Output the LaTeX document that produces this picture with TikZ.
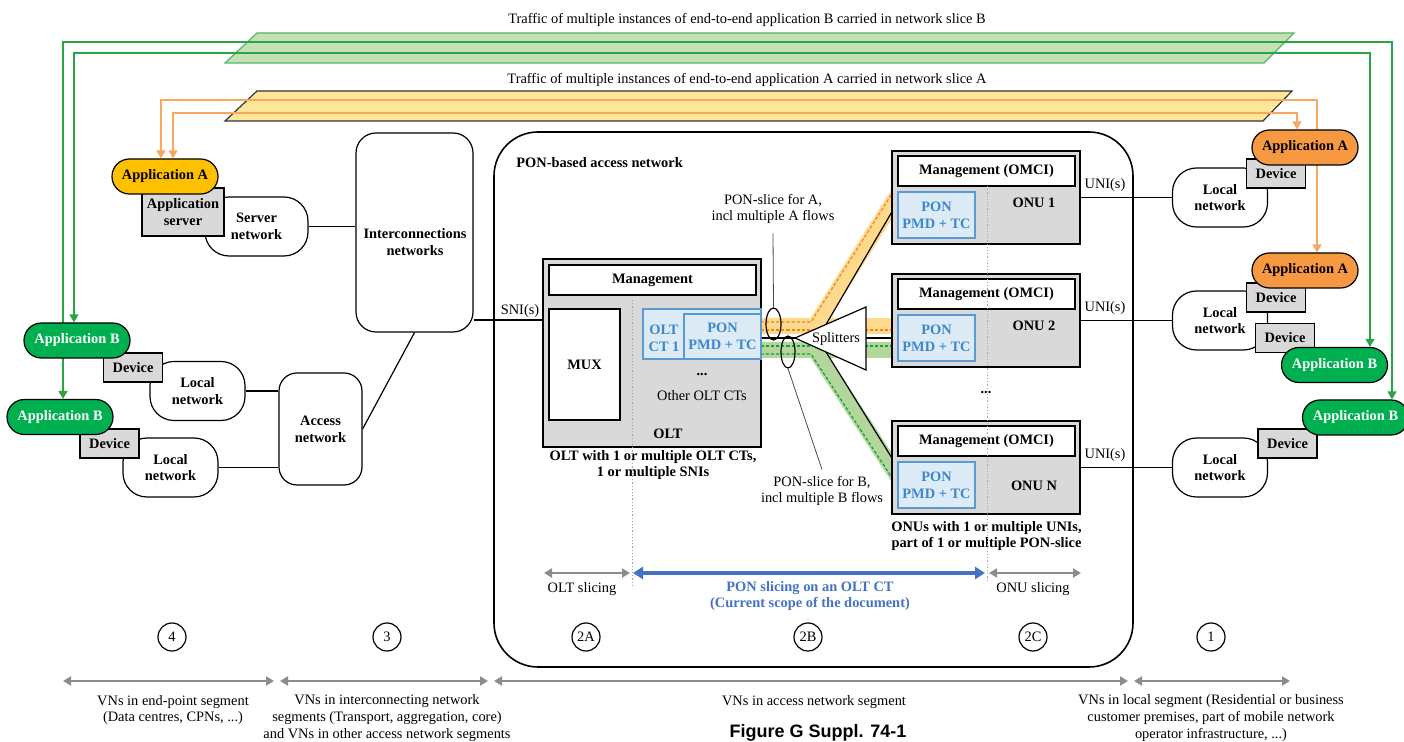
\documentclass[tikz,border=0pt]{standalone}
\usepackage{fontspec}
\setmainfont{Liberation Serif}
\newfontfamily\capfont{Liberation Sans}
\usetikzlibrary{arrows.meta,shapes.geometric,backgrounds}

\definecolor{appyellow}{RGB}{255,192,0}
\definecolor{apporange}{RGB}{247,152,66}
\definecolor{appgreen}{RGB}{0,176,80}
\definecolor{boxgray}{RGB}{217,217,217}
\definecolor{ctfill}{RGB}{221,235,247}
\definecolor{ctline}{RGB}{91,155,213}
\definecolor{cttext}{RGB}{60,135,205}
\definecolor{scopeblue}{RGB}{68,114,196}
\definecolor{slicegreen}{RGB}{197,224,180}
\definecolor{sliceorange}{RGB}{255,230,153}
\definecolor{flowgreen}{RGB}{40,165,70}
\definecolor{floworange}{RGB}{248,168,92}
\definecolor{fibreorange}{RGB}{255,217,140}
\definecolor{fibregreen}{RGB}{178,214,155}
\definecolor{dashorange}{RGB}{240,130,40}
\definecolor{dashgreen}{RGB}{20,160,50}
\definecolor{segarrow}{RGB}{140,140,140}

\tikzset{
    every node/.style={font=\fontsize{7.2}{8.4}\selectfont, align=center, inner sep=0pt},
    heavy/.style={font=\fontsize{7.2}{8.4}\selectfont\bfseries},
    pill/.style={draw, line width=0.6pt, rounded corners=8.7pt, minimum width=53pt, minimum height=17.5pt, heavy},
    appA/.style={pill, fill=appyellow},
    appAr/.style={pill, fill=apporange},
    appB/.style={pill, fill=appgreen, text=white},
    device/.style={draw, fill=boxgray, line width=0.6pt, minimum width=29.5pt, minimum height=14.5pt, heavy},
    netbox/.style={draw, fill=white, line width=0.6pt, heavy},
    localnet/.style={netbox, rounded corners=12pt, minimum width=47.5pt, minimum height=29.5pt},
    graybox/.style={draw, fill=boxgray, line width=0.8pt},
    whitebox/.style={draw, fill=white, line width=0.8pt, heavy},
    ctbox/.style={draw=ctline, fill=ctfill, line width=0.6pt, text=cttext, heavy},
    link/.style={line width=0.6pt},
    flowA/.style={floworange, line width=0.75pt, arrows={Triangle[length=4pt,width=4.5pt]-Triangle[length=4pt,width=4.5pt]}},
    flowB/.style={flowgreen, line width=0.75pt, arrows={Triangle[length=4pt,width=4.5pt]-Triangle[length=4pt,width=4.5pt]}},
    fibre/.style={line width=8pt},
    flowdash/.style={line width=0.6pt, dash pattern=on 1.6pt off 1pt},
    guide/.style={gray!70, line width=0.4pt, dash pattern=on 0.6pt off 1pt},
    span/.style={segarrow, line width=1pt, arrows={Triangle[length=4pt,width=4.5pt]-Triangle[length=4pt,width=4.5pt]}},
    scopespan/.style={scopeblue, line width=1.6pt, arrows={Triangle[length=5pt,width=6pt]-Triangle[length=5pt,width=6pt]}},
    segno/.style={draw, circle, minimum size=14pt, line width=0.6pt},
    leader/.style={black!70, line width=0.4pt},
}

\begin{document}
\begin{tikzpicture}[x=0.5pt, y=-0.5pt]
    \useasboundingbox (0,0) rectangle (1404,742);

    \node (textB) at (747,20) {Traffic of multiple instances of end-to-end application B carried in network slice B};
    \node (textA) at (747,80) {Traffic of multiple instances of end-to-end application A carried in network slice A};

    \node[draw, line width=0.8pt, rounded corners=22pt, minimum width=319.5pt, minimum height=267.5pt] (ponnet) at (813.5,399.5) {};
    \node[heavy, anchor=west] (ponlabel) at (516,163) {PON-based access network};

    \node[netbox, rounded corners=12pt, minimum width=51.5pt, minimum height=29.5pt] (srvnet) at (256.5,226.5) {Server\\network};
    \node[device, minimum width=41pt, minimum height=24pt] (appsrv) at (183,212) {Application\\server};
    \node[appA] (appAl) at (165,176.5) {Application A};
    \node[netbox, rounded corners=10pt, minimum width=58.5pt, minimum height=99.5pt] (icn) at (414.5,232.5) {};
    \node[heavy] (icnlabel) at (415,242) {Interconnections\\networks};
    \node[netbox, rounded corners=9pt, minimum width=41.5pt, minimum height=56pt] (access) at (320.5,429) {Access\\network};
    \node[localnet] (locL1) at (197.5,391) {Local\\network};
    \node[device] (devL1) at (133,367.5) {Device};
    \node[appB] (appBl1) at (77,340.5) {Application B};
    \node[localnet] (locL2) at (170.5,467.5) {Local\\network};
    \node[device] (devL2) at (109.5,443.5) {Device};
    \node[appB] (appBl2) at (60,417) {Application B};

    \draw[link] (srvnet.east) -- (srvnet.east -| icn.west);
    \draw[link] (locL1.east) -- (locL1.east -| access.west);
    \draw[link] (locL2.east) -- (locL2.east -| access.west);
    \draw[link] (access.east) -- (icn.south);

    \draw[fibre, fibreorange] (750,326) -- (900,326);
    \draw[fibre, fibreorange] (750,326) -- (815,326) -- (900,191);
    \draw[fibre, fibregreen] (750,350) -- (900,350);
    \draw[fibre, fibregreen] (750,350) -- (815,350) -- (900,480);
    \draw[flowdash, dashorange] (750,322) -- (811,322) -- (900,181);
    \draw[flowdash, dashorange] (750,330) -- (900,330);
    \draw[flowdash, dashgreen] (750,346) -- (900,346);
    \draw[flowdash, dashgreen] (750,354) -- (811,354) -- (900,490);
    \draw[link] (750,338) -- (900,338);
    \draw[link] (826,324.5) -- (900,198);
    \draw[link] (826,352) -- (900,471);
    \filldraw[link, fill=white] (795,338) -- (866,307) -- (866,370) -- cycle;
    \node (splitlabel) at (836,339) {Splitters};

    \node[graybox, minimum width=109pt, minimum height=94pt] (olt) at (652,353) {};
    \node[whitebox, minimum width=103.5pt, minimum height=15pt] (oltmgmt) at (652.5,280) {Management};
    \node[whitebox, minimum width=35.5pt, minimum height=55.5pt] (mux) at (584.5,364.5) {MUX};
    \node[ctbox, minimum width=59pt, minimum height=25pt] (oltct) at (702,334) {};
    \node[ctbox, minimum width=38.5pt, minimum height=22.5pt] (oltpon) at (722.5,336.5) {PON\\PMD + TC};
    \node[heavy, text=cttext] (ctlabel) at (664,338) {OLT\\CT 1};
    \node[heavy] (ctdots) at (702,375) {...};
    \node (ctother) at (702,396) {Other OLT CTs};
    \node[heavy] (oltlabel) at (668,434) {OLT};
    \node[heavy] (oltnote) at (653,465) {OLT with 1 or multiple OLT CTs,\\1 or multiple SNIs};

    \coordinate (sni) at (500,320);
    \draw[link] (sni -| icn.east) -- (sni -| olt.west);
    \node (snilabel) at (520,311) {SNI(s)};

    \foreach \n/\y/\ly in {1/151/203, 2/274/326, N/421/486}{
        \node[graybox, minimum width=94pt, minimum height=46.5pt] (onu\n) at (986,\y+46.5) {};
        \node[whitebox, minimum width=88.5pt, minimum height=15pt] (onumgmt\n) at (986.5,\y+20) {Management (OMCI)};
        \node[ctbox, minimum width=38.5pt, minimum height=23pt] (onupon\n) at (936.5,\y+64) {PON\\PMD + TC};
        \node[heavy] (onulabel\n) at (1034,\ly) {ONU \n};
        \node[localnet] (locR\n) at (1220,\y+46.5) {Local\\network};
        \draw[link] (onu\n.east) -- (locR\n.west);
        \node (uni\n) at (1105,\y+34) {UNI(s)};
    }
    \node[heavy] (onudots) at (986,393) {...};
    \node[heavy] (onunote) at (986.5,536) {ONUs with 1 or multiple UNIs,\\part of 1 or multiple PON-slice};

    \node[device] (devR1) at (1276,173.5) {Device};
    \node[appAr] (appAr1) at (1305,147.5) {Application A};
    \node[device] (devR2) at (1276,297.5) {Device};
    \node[appAr] (appAr2) at (1305,270.5) {Application A};
    \node[device] (devR3) at (1285,338) {Device};
    \node[appB] (appBr1) at (1334.5,365) {Application B};
    \node[device] (devR4) at (1287.5,443.5) {Device};
    \node[appB] (appBr2) at (1355.5,417.5) {Application B};

    \node[draw, ellipse, line width=0.6pt, minimum width=7.5pt, minimum height=16pt] (ringA) at (773.5,324) {};
    \node[draw, ellipse, line width=0.6pt, minimum width=7pt, minimum height=16pt] (ringB) at (788,352) {};
    \node (calloutA) at (773,209) {PON-slice for A,\\incl multiple A flows};
    \node (calloutB) at (822,491) {PON-slice for B,\\incl multiple B flows};
    \draw[leader] ([yshift=-4.5pt]calloutA.south) -- (ringA.north);
    \draw[leader] (ringB.south) -- ([yshift=3pt]calloutB.north);

    \draw[guide] (632,300) -- (632,586);
    \draw[guide] (987,186) -- (987,582);

    \draw[span] (544,573) -- (630,573);
    \draw[scopespan] (633,573) -- (985,573);
    \draw[span] (989,573) -- (1081,573);
    \node (oltslice) at (582,589) {OLT slicing};
    \node[heavy, text=scopeblue] (ponslice) at (810,596) {PON slicing on an OLT CT\\(Current scope of the document)};
    \node (onuslice) at (1033,589) {ONU slicing};

    \foreach \s/\x in {4/172, 3/387, 2A/586, 2B/808, 2C/1033, 1/1211}{
        \node[segno] (seg\s) at (\x,637) {\s};
    }

    \foreach \a/\b in {63/274, 280/488, 494/1128, 1134/1290}{
        \draw[span] (\a,681) -- (\b,681);
    }
    \node (segtext4) at (173,710) {VNs in end-point segment\\(Data centres, CPNs, ...)};
    \node (segtext3) at (387,718) {VNs in interconnecting network\\segments (Transport, aggregation, core)\\and VNs in other access network segments};
    \node (segtext2) at (814,702) {VNs in access network segment};
    \node (segtext1) at (1211,718) {VNs in local segment (Residential or business\\customer premises, part of mobile network\\operator infrastructure, ...)};
    \node[font=\capfont\bfseries\fontsize{9}{10}\selectfont] (caption) at (818,733) {Figure G Suppl. 74-1};

    \coordinate (railBo) at (63,42);
    \coordinate (railBoR) at (1392,42);
    \coordinate (railBi) at (74,53);
    \coordinate (railBiR) at (1370,53);
    \coordinate (railAo) at (161,100);
    \coordinate (railAoR) at (1317,100);
    \coordinate (railAi) at (173,113);
    \coordinate (railAiR) at (1297,113);

    \begin{scope}[on background layer]
        \filldraw[fill=slicegreen, draw=flowgreen!80, line width=0.6pt] (257,33) -- (1294,33) -- (1264,63) -- (225,63) -- cycle;
        \filldraw[fill=sliceorange, draw=black!80, line width=0.6pt] (257,91) -- (1292,91) -- (1263,121) -- (225,121) -- cycle;
        \draw[flowB] (appBl2.north -| railBo) -- (railBo) -- (railBoR) -- (appBr2.north -| railBoR);
        \draw[flowB] (appBl1.north -| railBi) -- (railBi) -- (railBiR) -- (appBr1.north -| railBiR);
        \draw[flowA] (appAl.north -| railAo) -- (railAo) -- (railAoR) -- (appAr2.north -| railAoR);
        \draw[flowA] (appAl.north -| railAi) -- (railAi) -- (railAiR) -- (appAr1.north -| railAiR);
    \end{scope}
\end{tikzpicture}
\end{document}
